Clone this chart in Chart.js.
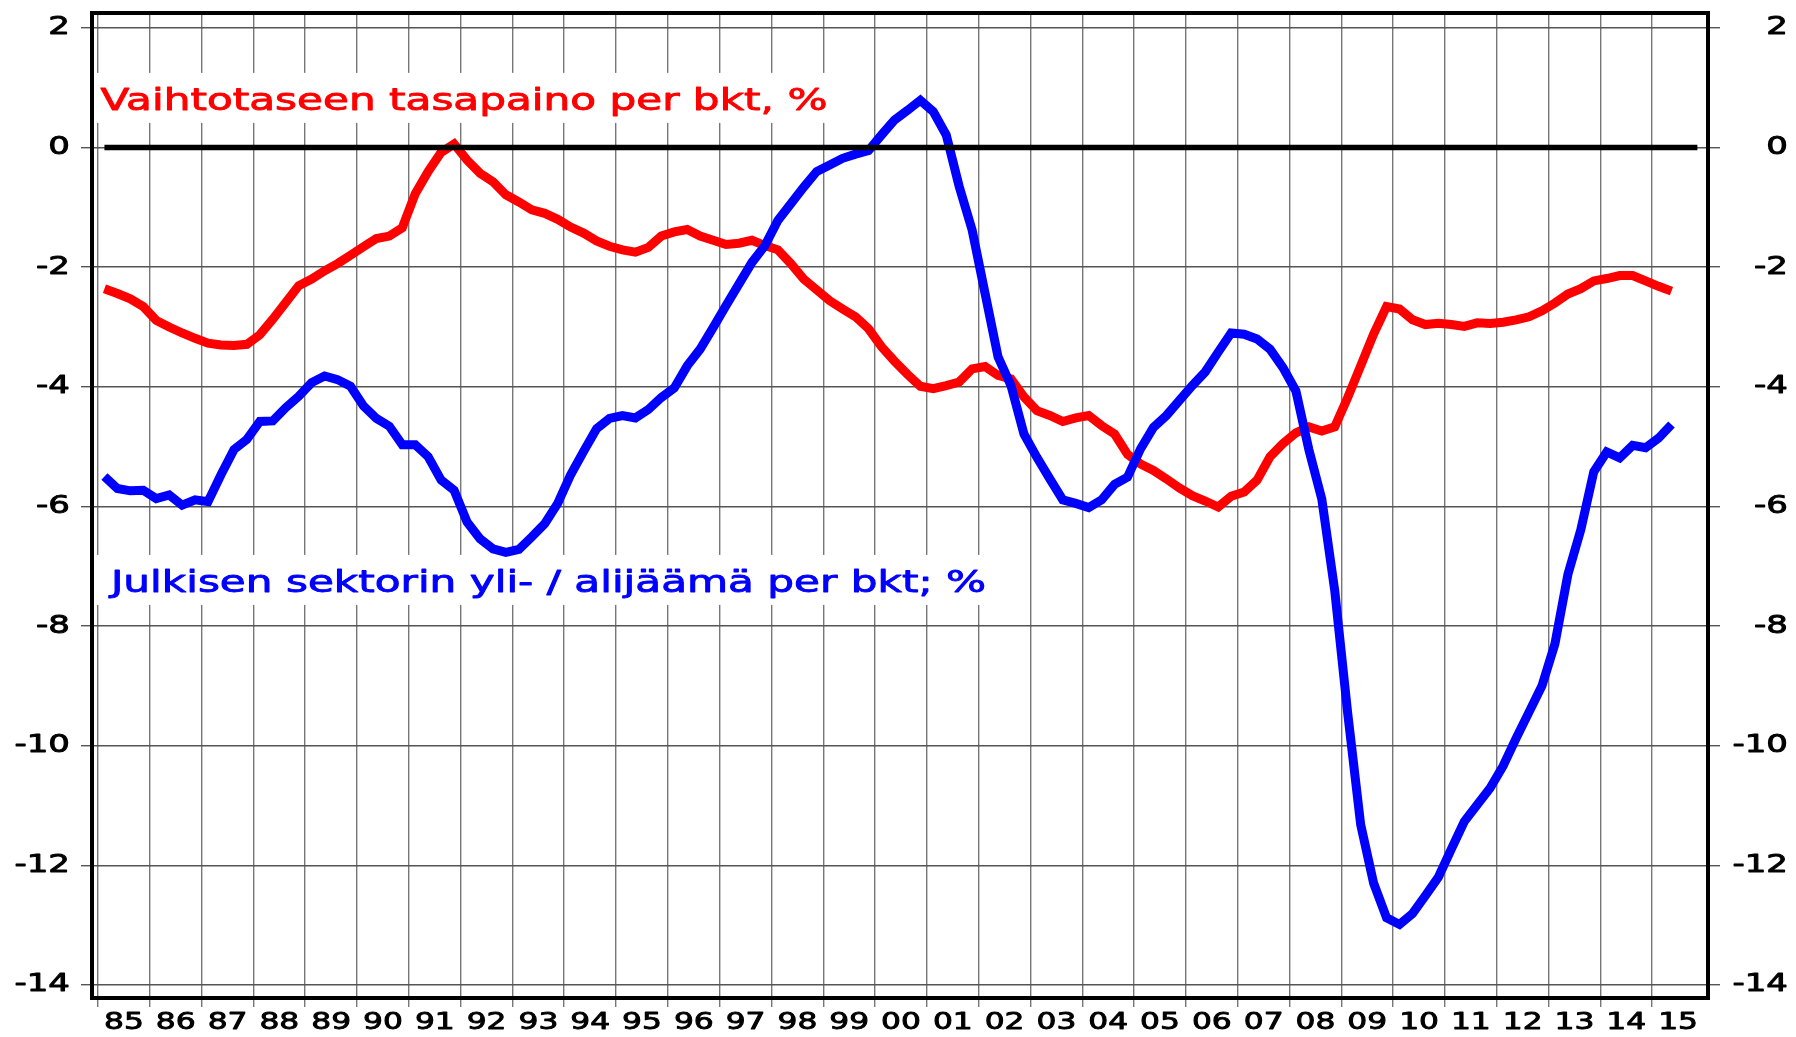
<!DOCTYPE html>
<html>
<head>
<meta charset="utf-8">
<script src="https://cdn.jsdelivr.net/npm/chart.js@4.4.1/dist/chart.umd.min.js"></script>
<style>
html,body{margin:0;padding:0;background:#ffffff;}
#wrap{width:1796px;height:1037px;position:relative;}
canvas{display:block;}
</style>
</head>
<body>
<div id="wrap"><canvas id="c" width="1796" height="1037"></canvas></div>
<script>
// ---------- categories (quarters 1985Q1 .. 2015Q2) ----------
const quarters = [];
for (let yr = 1985; yr <= 2015; yr++) {
  for (let q = 1; q <= 4; q++) {
    if (yr === 2015 && q > 2) break;
    quarters.push(yr + 'Q' + q);
  }
}

// ---------- series: current account balance, % of GDP (red) ----------
const currentAccount = [
  -2.36,-2.44,-2.53,-2.66, -2.89,-3.00,-3.10,-3.19, -3.27,-3.30,-3.31,-3.29,
  -3.13,-2.87,-2.59,-2.31, -2.20,-2.06,-1.94,-1.80, -1.66,-1.52,-1.48,-1.34,
  -0.77,-0.40,-0.08, 0.06, -0.21,-0.43,-0.57,-0.79, -0.91,-1.04,-1.10,-1.20,
  -1.33,-1.43,-1.56,-1.65, -1.71,-1.75,-1.67,-1.48, -1.41,-1.37,-1.48,-1.55,
  -1.62,-1.60,-1.55,-1.64, -1.71,-1.94,-2.20,-2.38, -2.56,-2.70,-2.83,-3.03,
  -3.33,-3.57,-3.79,-3.99, -4.03,-3.98,-3.92,-3.70, -3.66,-3.81,-3.87,-4.17,
  -4.40,-4.48,-4.58,-4.52, -4.48,-4.65,-4.79,-5.13, -5.29,-5.40,-5.54,-5.69,
  -5.82,-5.91,-6.01,-5.83, -5.76,-5.56,-5.17,-4.95, -4.77,-4.67,-4.74,-4.67,
  -4.18,-3.65,-3.12,-2.66, -2.70,-2.88,-2.96,-2.94, -2.96,-2.99,-2.93,-2.94,
  -2.92,-2.88,-2.83,-2.73, -2.60,-2.45,-2.36,-2.23, -2.19,-2.14,-2.14,-2.23,
  -2.32,-2.40
];

// ---------- series: general government surplus / deficit, % of GDP (blue) ----------
const govBalance = [
  -5.50,-5.70,-5.74,-5.73, -5.87,-5.81,-5.98,-5.89, -5.92,-5.47,-5.05,-4.88,
  -4.58,-4.57,-4.35,-4.16, -3.93,-3.82,-3.88,-3.99, -4.32,-4.53,-4.66,-4.97,
  -4.97,-5.17,-5.56,-5.73, -6.26,-6.54,-6.71,-6.77, -6.72,-6.51,-6.29,-5.95,
  -5.47,-5.08,-4.70,-4.53, -4.48,-4.52,-4.38,-4.18, -4.02,-3.65,-3.37,-3.01,
  -2.64,-2.28,-1.92,-1.64, -1.22,-0.94,-0.66,-0.40, -0.29,-0.18,-0.11,-0.05,
   0.21, 0.46, 0.62, 0.79,  0.60, 0.21,-0.65,-1.38, -2.44,-3.50,-3.98,-4.79,
  -5.18,-5.54,-5.89,-5.95, -6.02,-5.89,-5.63,-5.51, -5.04,-4.68,-4.48,-4.23,
  -3.98,-3.75,-3.42,-3.10, -3.12,-3.20,-3.37,-3.68, -4.07,-5.05,-5.88,-7.41,
  -9.46,-11.32,-12.30,-12.88, -12.99,-12.81,-12.51,-12.20, -11.73,-11.27,-10.99,-10.71,
  -10.34,-9.88,-9.44,-9.00, -8.30,-7.14,-6.39,-5.42, -5.09,-5.19,-4.98,-5.02,
  -4.86,-4.63
];

// ---------- zero reference line ----------
const zeroQuarters = ['1985Q1', '2015Q4'];
const zeroValues = [0, 0];

// ---------- axis ticks ----------
const xTickYears = [];
for (let yr = 1985; yr <= 2015; yr++) xTickYears.push(yr);
const xTickLabels = ['85','86','87','88','89','90','91','92','93','94','95','96','97','98','99',
                     '00','01','02','03','04','05','06','07','08','09','10','11','12','13','14','15'];
const yTickValues = [-14,-12,-10,-8,-6,-4,-2,0,2];
const yTickLabels = ['-14','-12','-10','-8','-6','-4','-2','0','2'];

// ---------- series labels ----------
const seriesLabels = [
  {text: 'Vaihtotaseen tasapaino per bkt, %', color: '#ff0000', atX: 1985.05, atY: 0.63},
  {text: 'Julkisen sektorin yli- / alijäämä per bkt; %', color: '#0000ff', atX: 1985.25, atY: -7.43}
];

// quarter label -> position on the time axis (middle of the quarter)
function quarterPos(label) {
  const yr = parseInt(label.slice(0, 4), 10);
  const q = parseInt(label.slice(5), 10);
  return yr + (q - 0.5) / 4;
}
function toPoints(cats, vals) {
  return cats.map((c, i) => ({x: quarterPos(c), y: vals[i]}));
}

// wide, slightly heavy "extended" look for all text
const STRETCH = 1.36;
const BOLDEN = 0.9;
const canvas = document.getElementById('c');
const ctx = canvas.getContext('2d');
const nativeFill = CanvasRenderingContext2D.prototype.fillText;
const nativeStroke = CanvasRenderingContext2D.prototype.strokeText;
ctx.fillText = function (text, x, y, maxWidth) {
  this.save();
  this.translate(x, y);
  this.scale(STRETCH, 1);
  this.strokeStyle = this.fillStyle;
  this.lineWidth = BOLDEN;
  this.lineJoin = 'round';
  if (maxWidth !== undefined && maxWidth !== null) {
    nativeFill.call(this, text, 0, 0, maxWidth / STRETCH);
    nativeStroke.call(this, text, 0, 0, maxWidth / STRETCH);
  } else {
    nativeFill.call(this, text, 0, 0);
    nativeStroke.call(this, text, 0, 0);
  }
  this.restore();
};

const framePlugin = {
  id: 'frame',
  afterDraw(chart) {
    const a = chart.chartArea, c = chart.ctx;
    c.save();
    c.strokeStyle = '#000';
    c.lineWidth = 4;
    c.strokeRect(a.left, a.top, a.right - a.left, a.bottom - a.top);
    c.restore();
  }
};

const labelPlugin = {
  id: 'seriesLabels',
  beforeDatasetsDraw(chart) {
    const c = chart.ctx, xs = chart.scales.x, ys = chart.scales.y, a = chart.chartArea;
    c.save();
    c.font = '31px "DejaVu Sans"';
    c.textAlign = 'left';
    c.textBaseline = 'alphabetic';
    seriesLabels.forEach(l => {
      const px = xs.getPixelForValue(l.atX);
      const py = ys.getPixelForValue(l.atY);
      const w = c.measureText(l.text).width * STRETCH;
      c.fillStyle = '#ffffff';
      c.fillRect(a.left + 2.5, py - 37, px + w + 10 - (a.left + 2.5), 50);
      c.fillStyle = l.color;
      c.fillText(l.text, px, py);
    });
    c.restore();
  }
};

const tickFontY = {family: 'DejaVu Sans', size: 25};
const tickFontX = {family: 'DejaVu Sans', size: 23};
const Y_MIN = -14.22, Y_MAX = 2.25;

new Chart(ctx, {
  type: 'line',
  data: {
    datasets: [
      {label: 'zero', data: toPoints(zeroQuarters, zeroValues), borderColor: '#000000', borderWidth: 5.5,
       pointRadius: 0, fill: false, order: 0},
      {label: 'Vaihtotaseen tasapaino per bkt, %', data: toPoints(quarters, currentAccount), borderColor: '#ff0000',
       borderWidth: 9, pointRadius: 0, fill: false, order: 2},
      {label: 'Julkisen sektorin yli- / alijäämä per bkt; %', data: toPoints(quarters, govBalance), borderColor: '#0000ff',
       borderWidth: 9, pointRadius: 0, fill: false, order: 1}
    ]
  },
  options: {
    responsive: false,
    animation: false,
    events: [],
    layout: {padding: {top: 13, left: 0, right: 8, bottom: 0}},
    plugins: {legend: {display: false}, tooltip: {enabled: false}, title: {display: false}},
    scales: {
      x: {
        type: 'linear', position: 'bottom', min: 1984.885, max: 2016.08, bounds: 'data',
        afterBuildTicks: s => { s.ticks = xTickYears.map(v => ({value: v})); },
        afterFit: s => { s.height = 39; s.paddingLeft = 0; s.paddingRight = 0; },
        ticks: {
          autoSkip: false, maxRotation: 0, minRotation: 0, padding: 2, labelOffset: 26,
          color: '#000', font: tickFontX,
          callback: v => xTickLabels[xTickYears.indexOf(v)]
        },
        grid: {color: '#777777', lineWidth: 1.4, tickLength: 9, drawTicks: true},
        border: {display: false}
      },
      y: {
        type: 'linear', position: 'left', min: Y_MIN, max: Y_MAX, bounds: 'data',
        afterBuildTicks: s => { s.ticks = yTickValues.map(v => ({value: v})); },
        afterFit: s => { s.width = 92; s.paddingTop = 0; s.paddingBottom = 0; },
        ticks: {padding: 11, color: '#000', font: tickFontY,
                callback: v => yTickLabels[yTickValues.indexOf(v)]},
        grid: {color: '#555555', lineWidth: 1.4, tickLength: 11},
        border: {display: false}
      },
      y2: {
        type: 'linear', position: 'right', min: Y_MIN, max: Y_MAX, bounds: 'data',
        afterBuildTicks: s => { s.ticks = yTickValues.map(v => ({value: v})); },
        afterFit: s => { s.width = 80; s.paddingTop = 0; s.paddingBottom = 0; },
        ticks: {padding: 10, crossAlign: 'far', color: '#000', font: tickFontY,
                callback: v => yTickLabels[yTickValues.indexOf(v)]},
        grid: {drawOnChartArea: false, color: '#555555', lineWidth: 1.4, tickLength: 12},
        border: {display: false}
      }
    }
  },
  plugins: [framePlugin, labelPlugin]
});
</script>
</body>
</html>
